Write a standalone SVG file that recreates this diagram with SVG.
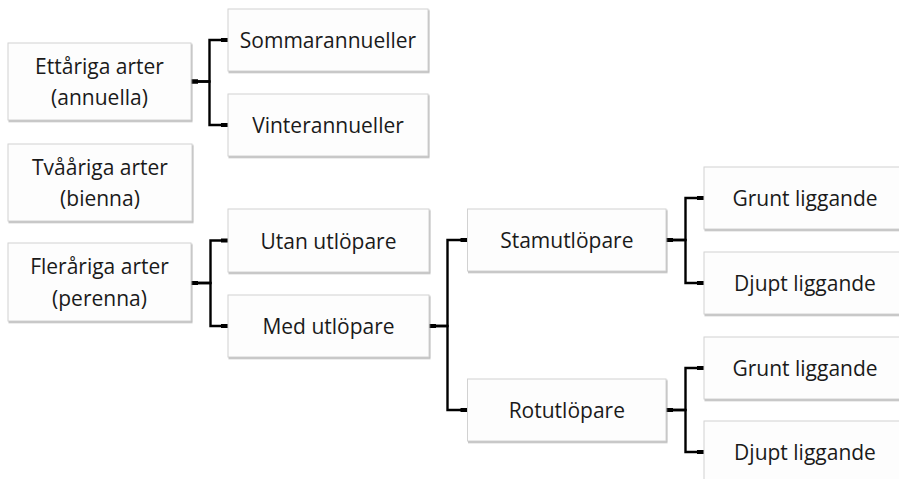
<svg xmlns="http://www.w3.org/2000/svg" width="899" height="479" viewBox="0 0 899 479">
<style>
.box{fill:#fdfdfd;stroke:#d2d2d2;stroke-width:1;filter:url(#sh)}
.t{font-family:"Open Sans","Liberation Sans",sans-serif;font-size:21px;fill:#1a1a1a;text-anchor:middle}
.c{fill:none;stroke:#000;stroke-width:2.4;stroke-linejoin:miter;marker-start:url(#ms);marker-end:url(#me)}
</style>
<defs>
<filter id="sh" x="-5%" y="-10%" width="115%" height="130%">
<feDropShadow dx="1" dy="1.5" stdDeviation="0.7" flood-color="#777" flood-opacity="0.55"/>
</filter>
<marker id="ms" markerUnits="userSpaceOnUse" markerWidth="10" markerHeight="6" refX="0" refY="3" orient="auto" overflow="visible">
<rect x="0" y="1" width="7" height="4" fill="#000"/>
</marker>
<marker id="me" markerUnits="userSpaceOnUse" markerWidth="10" markerHeight="6" refX="0" refY="3" orient="auto" overflow="visible">
<rect x="-7" y="1" width="7" height="4" fill="#000"/>
</marker>
</defs>
<rect width="899" height="479" fill="#fff"/>
<g id="connectors">
<path class="c" d="M191,81.5 H209.5 V40 H228"/>
<path class="c" d="M191,81.5 H209.5 V125 H228"/>
<path class="c" d="M191,283 H210.5 V240.5 H228"/>
<path class="c" d="M191,283 H210.5 V326 H228"/>
<path class="c" d="M429,326 H447.5 V240 H467.5"/>
<path class="c" d="M429,326 H447.5 V410 H467.5"/>
<path class="c" d="M666,240 H685.5 V198 H704"/>
<path class="c" d="M666,240 H685.5 V283 H704"/>
<path class="c" d="M666,410 H685.5 V368 H704"/>
<path class="c" d="M666,410 H685.5 V452 H704"/>
</g>
<g id="n-ettariga"><rect class="box" x="8" y="43" width="183" height="77"/><text class="t" x="99.5" y="73.5">Ettåriga arter</text><text class="t" x="99.5" y="105">(annuella)</text></g>
<g id="n-tvaariga"><rect class="box" x="8" y="144" width="184" height="77"/><text class="t" x="100" y="174.5">Tvååriga arter</text><text class="t" x="100" y="206">(bienna)</text></g>
<g id="n-flerariga"><rect class="box" x="8" y="243" width="183" height="78"/><text class="t" x="99.5" y="274">Fleråriga arter</text><text class="t" x="99.5" y="305.5">(perenna)</text></g>
<g id="n-sommar"><rect class="box" x="228" y="9" width="200" height="62"/><text class="t" x="328" y="48">Sommarannueller</text></g>
<g id="n-vinter"><rect class="box" x="228" y="94" width="200" height="62"/><text class="t" x="328" y="133">Vinterannueller</text></g>
<g id="n-utan"><rect class="box" x="228" y="209" width="201" height="63"/><text class="t" x="328.5" y="248.5">Utan utlöpare</text></g>
<g id="n-med"><rect class="box" x="228" y="295" width="201" height="62"/><text class="t" x="328.5" y="334">Med utlöpare</text></g>
<g id="n-stam"><rect class="box" x="467.5" y="209" width="198.5" height="62"/><text class="t" x="566.8" y="248">Stamutlöpare</text></g>
<g id="n-rot"><rect class="box" x="467.5" y="379" width="198.5" height="62"/><text class="t" x="566.8" y="418">Rotutlöpare</text></g>
<g id="n-grunt1"><rect class="box" x="704" y="167" width="200" height="62"/><text class="t" x="805" y="206">Grunt liggande</text></g>
<g id="n-djupt1"><rect class="box" x="704" y="252" width="200" height="62"/><text class="t" x="805" y="291">Djupt liggande</text></g>
<g id="n-grunt2"><rect class="box" x="704" y="337" width="200" height="62"/><text class="t" x="805" y="376">Grunt liggande</text></g>
<g id="n-djupt2"><rect class="box" x="704" y="421" width="200" height="62"/><text class="t" x="805" y="460">Djupt liggande</text></g>
</svg>
